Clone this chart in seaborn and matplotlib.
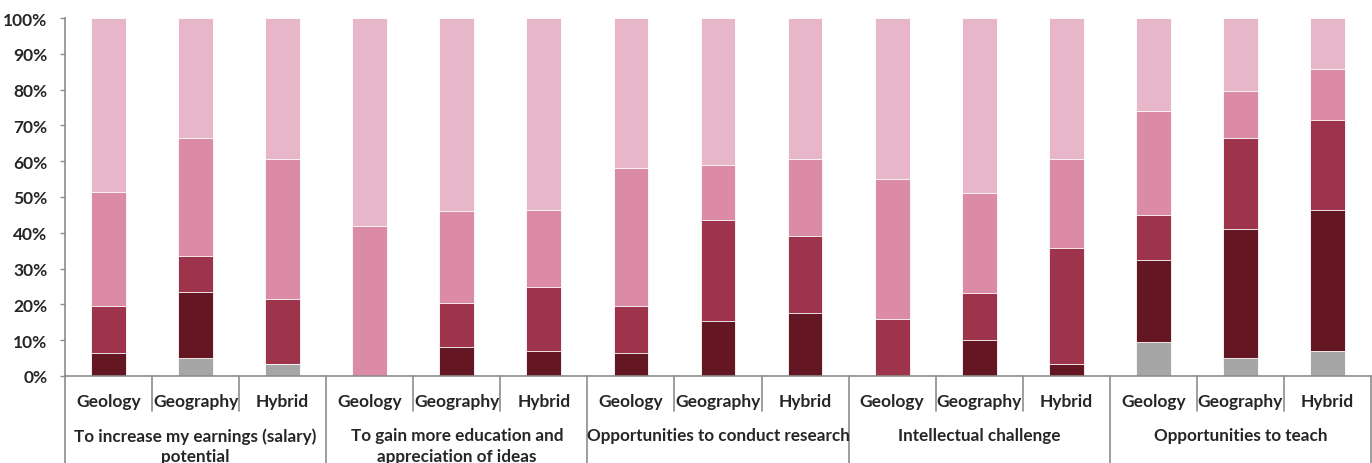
import matplotlib.pyplot as plt
import matplotlib.transforms as mtransforms
import pandas as pd
import seaborn as sns


groups = [
    "To increase my earnings (salary)\npotential",
    "To gain more education and\nappreciation of ideas",
    "Opportunities to conduct research",
    "Intellectual challenge",
    "Opportunities to teach",
]
disciplines = ["Geology", "Geography", "Hybrid"]

# segment shares (%), bottom to top, one entry per bar (group-major order)
grey = [0, 5, 3.3, 0, 0, 0, 0, 0, 0, 0, 0, 0, 9.5, 5, 7]
dark = [6.5, 18.5, 0, 0, 8, 7, 6.5, 15.3, 17.7, 0, 10, 3.3, 23, 36, 39.5]
red = [13, 10, 18.2, 0, 12.5, 18, 13, 28.3, 21.5, 16, 13.3, 32.5, 12.5, 25.5, 25]
pink = [32, 33, 39.2, 42, 25.5, 21.5, 38.5, 15.4, 21.5, 39, 27.7, 24.9, 29, 13, 14.2]
light = [48.5, 33.5, 39.3, 58, 54, 53.5, 42, 41, 39.3, 45, 49, 39.3, 26, 20.5, 14.3]

colors = ["#A6A6A6", "#641623", "#9D344B", "#DB8BA6", "#E8B6C9"]

rows = []
for i, g in enumerate(groups):
    for j, d in enumerate(disciplines):
        k = i * 3 + j
        rows.append({"key": f"{k}", "group": g, "discipline": d,
                     "grey": grey[k], "dark": dark[k], "red": red[k],
                     "pink": pink[k], "light": light[k]})
df = pd.DataFrame(rows)
layers = ["grey", "dark", "red", "pink", "light"]
cum = df[layers].cumsum(axis=1)
for col in layers:
    df["cum_" + col] = cum[col]

sns.set_style("white")
plt.rcParams["font.family"] = ["Lato", "DejaVu Sans"]
plt.rcParams["font.weight"] = "bold"

fig = plt.figure(figsize=(13.72, 4.64), dpi=100)
ax = fig.add_axes([65 / 1372, 1 - 377 / 464, (1371 - 65) / 1372, (377 - 19) / 464])

order = list(df["key"])
for col, c in reversed(list(zip(layers, colors))):
    sns.barplot(data=df, x="key", y="cum_" + col, order=order, color=c,
                width=0.4, edgecolor="white", linewidth=0.6, saturation=1, ax=ax)

ax.set_xlim(-0.5, len(order) - 0.5)
ax.set_ylim(0, 100)
ax.set_yticks(range(0, 101, 10))
ax.set_yticklabels([f"{v}%" for v in range(0, 101, 10)], fontsize=12.5, fontweight="bold")
ax.set_xticks([])
ax.set_xlabel("")
ax.set_ylabel("")
ax.tick_params(axis="y", length=3.6, width=1, color="#8c8c8c", direction="out", pad=9)
ax.yaxis.set_ticks_position("left")
for s in ["top", "right"]:
    ax.spines[s].set_visible(False)
for s in ["left", "bottom"]:
    ax.spines[s].set_color("#8c8c8c")
    ax.spines[s].set_linewidth(1.2)

trans = mtransforms.blended_transform_factory(ax.transData, ax.transAxes)
short = -35 / 358
long = -90 / 358
for b in range(len(order) + 1):
    x = b - 0.5
    y1 = long if b % 3 == 0 else short
    ax.plot([x, x], [0, y1], color="#8c8c8c", lw=1.2, transform=trans, clip_on=False)

for k, row in df.iterrows():
    ax.text(k, -25 / 358, row["discipline"], transform=trans, ha="center", va="center",
            fontsize=12.5, fontweight="bold")

for i, g in enumerate(groups):
    ax.text(i * 3 + 1, -51 / 358, g, transform=trans, ha="center", va="top",
            fontsize=12.3, fontweight="bold", linespacing=1.35)

fig.savefig("out.png", dpi=100)
